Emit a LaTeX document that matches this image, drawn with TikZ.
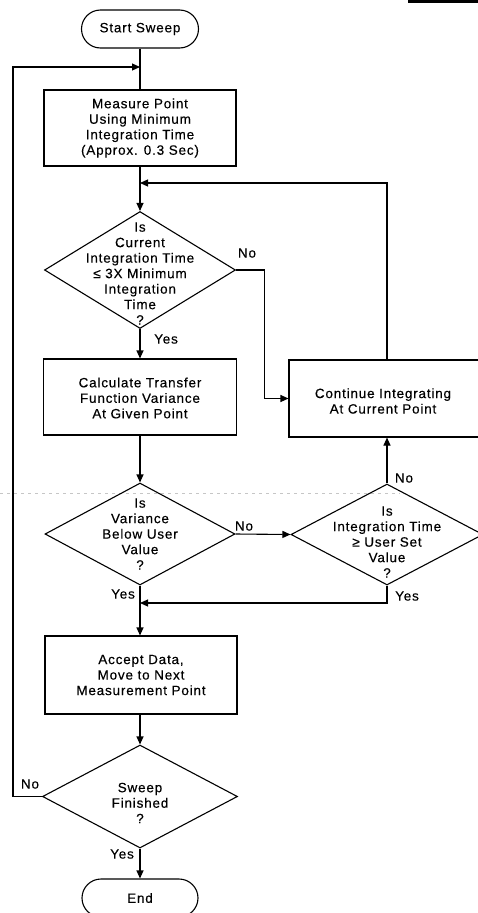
\documentclass[tikz,border=0pt]{standalone}
\usepackage{fontspec}
\setmainfont{Liberation Sans}[LetterSpace=6,FakeBold=0.3]
\usetikzlibrary{arrows.meta,shapes.geometric}
\begin{document}
\begin{tikzpicture}[x=1pt,y=-1pt, line width=1.1pt,
  every node/.style={font=\fontsize{13.5}{15.5}\selectfont},
  box/.style={draw, rectangle, inner sep=0},
  term/.style={draw, rectangle, rounded corners=19pt, inner sep=0, minimum height=38},
  dia/.style={draw, diamond, inner sep=0},
  txt/.style={align=center, inner sep=0},
  lbl/.style={inner sep=0},
  arr/.style={-{Triangle[length=8pt,width=7pt]}}]
\path[use as bounding box, clip] (0,0) rectangle (478,913);
\fill[white] (0,0) rectangle (478,913);
% scan artifacts
\fill (408,0) rectangle (478,3);
\draw[gray!45, line width=0.6pt, dash pattern=on 3pt off 4pt] (0,493) -- (400,493);
% nodes
\node[term, minimum width=117] (start) at (140,29) {Start Sweep};
\node[box, minimum width=192, minimum height=76] (meas) at (140,128) {};
\node[txt] (meast) at (meas) {Measure Point\\Using Minimum\\Integration Time\\(Approx. 0.3 Sec)};
\node[dia, minimum width=191, minimum height=117] (d1) at (140,270) {};
\node[txt] (d1t) at (140,273.5) {Is\\Current\\Integration Time\\≤ 3X Minimum\\Integration\\Time\\?};
\node[box, minimum width=193, minimum height=76] (calc) at (140,397) {};
\node[txt] (calct) at (140,398) {Calculate Transfer\\Function Variance\\At Given Point};
\node[box, minimum width=196, minimum height=77] (cont) at (387,398.5) {};
\node[txt] (contt) at (383,401) {Continue Integrating\\At Current Point};
\node[dia, minimum width=190, minimum height=102] (d2) at (140,534) {};
\node[txt] (d2t) at (140,534) {Is\\Variance\\Below User\\Value\\?};
\node[dia, minimum width=192, minimum height=101] (d3) at (387,534.5) {};
\node[txt] (d3t) at (387,542) {Is\\Integration Time\\≥ User Set\\Value\\?};
\node[box, minimum width=192, minimum height=78] (acc) at (141,675) {};
\node[txt] (acct) at (141,675) {Accept Data,\\Move to Next\\Measurement Point};
\node[dia, minimum width=195, minimum height=103] (d4) at (140,796.5) {};
\node[txt] (d4t) at (140,803) {Sweep\\Finished\\?};
\node[term, minimum width=116] (end) at (140,898) {End};
% junction points on the main line
\coordinate (j0) at (140,67);
\coordinate (j1) at (140,183);
\coordinate (j2) at (140,603);
% connectors
\draw (start.south) -- (meas.north);
\draw[arr] (meas.south) -- (d1.north);
\draw[arr] (d1.south) -- (calc.north);
\draw[arr] (calc.south) -- (d2.north);
\draw[arr] (d2.south) -- (acc.north -| d2.south);
\draw[arr] (acc.south -| d4.north) -- (d4.north);
\draw[arr] (d4.south) -- (end.north);
\draw[arr] (d1.east) -- ++(28,0) |- (cont.west);
\draw[arr] (cont.north) |- (j1);
\draw[arr] (d2.east) -- (d3.west);
\draw[arr] (d3.north) -- (cont.south);
\draw[arr] (d3.south) |- (j2);
\draw[arr] (d4.west) -- ++(-29,0) |- (j0);
% labels
\node[lbl] (l1) at (247,253) {No};
\node[lbl] (l2) at (166,339) {Yes};
\node[lbl] (l3) at (244,526) {No};
\node[lbl] (l4) at (404,478) {No};
\node[lbl] (l5) at (123,594) {Yes};
\node[lbl] (l6) at (407,596) {Yes};
\node[lbl] (l7) at (30,784) {No};
\node[lbl] (l8) at (122,854) {Yes};
\end{tikzpicture}
\end{document}
